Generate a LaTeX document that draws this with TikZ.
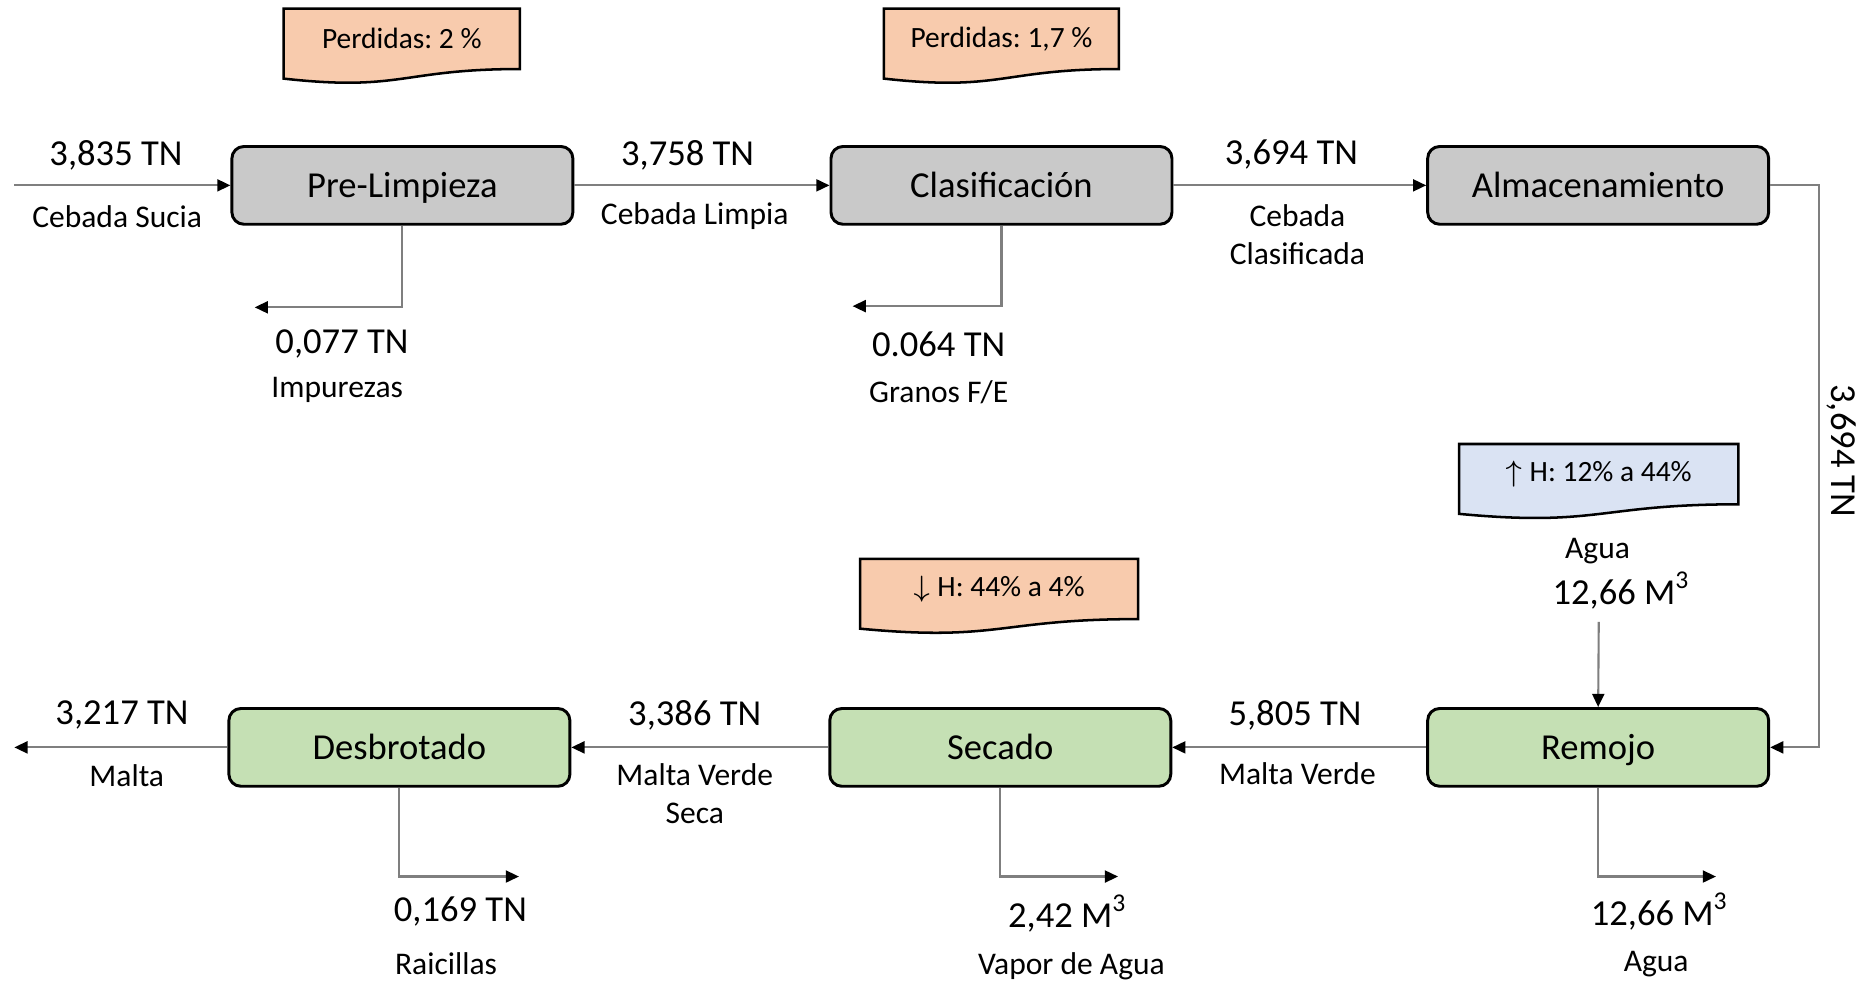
\documentclass[tikz,border=0pt]{standalone}
\usepackage{fontspec}
\setmainfont{Carlito}
\usetikzlibrary{arrows.meta,backgrounds,calc}

\definecolor{boxgris}{HTML}{C9C9C9}
\definecolor{boxverde}{HTML}{C5E0B4}
\definecolor{notanaranja}{HTML}{F8CBAD}
\definecolor{notaazul}{HTML}{DAE3F3}
\definecolor{lineagris}{HTML}{7F7F7F}

\newcommand{\grande}{\fontsize{8.7}{10}\selectfont}
\newcommand{\chico}{\fontsize{7.5}{9.1}\selectfont}
\newcommand{\notafont}{\fontsize{7}{8.5}\selectfont}

\tikzset{
  proceso/.style={draw, rounded corners=0.1cm, line width=0.7pt, minimum width=2.85cm,
    minimum height=0.65cm, inner sep=0pt, text height=1.5ex, text depth=0.3ex, font=\grande},
  flecha/.style={draw=lineagris, line width=0.5pt,
    -{Triangle[length=1.1mm,width=1mm,color=black]}},
  cantidad/.style={inner sep=0pt, font=\grande},
  etiqueta/.style={inner sep=0pt, font=\chico, align=center},
  notabox/.style={inner sep=0pt, minimum height=0.49cm, font=\notafont},
}

\begin{document}
\frenchspacing
\begin{tikzpicture}[x=0.01cm, y=-0.01cm]
      \useasboundingbox (0,0) rectangle (1568,823);
      \def \Procesos{
        prel/336.5/155/Pre-Limpieza/boxgris,
        clas/837.5/155/Clasificación/boxgris,
        alma/1336.5/155/Almacenamiento/boxgris,
        desb/334/625/Desbrotado/boxverde,
        seca/836.5/625/Secado/boxverde,
        remo/1336.5/625/Remojo/boxverde}
      \def \Cantidades{
        c1/97/130/{3,835 TN},
        c2/575/130/{3,758 TN},
        c3/1080/129/{3,694 TN},
        c4/286/288/{0,077 TN},
        c5/785/288/{0.064 TN},
        c6/102/598/{3,217 TN},
        c7/581/598/{3,386 TN},
        c8/1083/598/{5,805 TN},
        c9/385/762/{0,169 TN},
        c10/893/764/{2,42 M\textsuperscript{3}},
        c11/1388/762/{12,66 M\textsuperscript{3}},
        c12/1356/494/{12,66 M\textsuperscript{3}}}
      \def \Etiquetas{
        e1/98/181/{Cebada Sucia},
        e2/581/181/{Cebada Limpia},
        e3/1085/196/{Cebada\\Clasificada},
        e4/282/326/{Impurezas},
        e5/785/328/{Granos F/E},
        e6/106/649/{Malta},
        e7/581/664/{Malta Verde\\Seca},
        e8/1085/647/{Malta Verde},
        e9/373/806/{Raicillas},
        e10/896/808/{Vapor de Agua},
        e11/1385/806/{Agua},
        e12/1336/461/{Agua}}
      \def \Notas{
        perd1/336/32.5/1.96cm/notanaranja/{Perdidas: 2 \%},
        perd2/837.5/32.5/1.95cm/notanaranja/{Perdidas: 1,7 \%},
        hume1/1337/396.5/2.32cm/notaazul/{$\uparrow$ H: 12\% a 44\%},
        hume2/835.5/492.5/2.31cm/notanaranja/{$\downarrow$ H: 44\% a 4\%}}
      \foreach \id / \x / \y / \t / \c in \Procesos{
        \node[proceso, fill=\c] (\id) at (\x, \y) {\t};
      }
      \foreach \id / \x / \y / \t in \Cantidades{
        \node[cantidad] (\id) at (\x, \y) {\t};
      }
      \foreach \id / \x / \y / \t in \Etiquetas{
        \node[etiqueta] (\id) at (\x, \y) {\t};
      }
      \node[cantidad, rotate=-90] (c13) at (1540, 377) {3,694 TN};
      \foreach \id / \x / \y / \w / \c / \t in \Notas{
        \node[notabox, minimum width=\w] (\id) at (\x, \y) {\t};
        \begin{scope}[on background layer]
          \draw[fill=\c, line width=0.6pt] (\id.north west) -- (\id.north east) -- (\id.south east)
            .. controls (\id.south) and ($(\id.south)+(0,-0.19cm)$) .. ($(\id.south west)+(0,-0.08cm)$) -- cycle;
        \end{scope}
      }
      % extremos libres
      \coordinate (entrada) at (12, 155);
      \coordinate (salida) at (12, 625);
      \coordinate (impu) at (213, 257);
      \coordinate (gran) at (713, 256);
      \coordinate (raic) at (434, 733);
      \coordinate (vapo) at (935, 733);
      \coordinate (aguas) at (1435, 733);
      \coordinate (aguae) at (1337, 520);
      \path[flecha] (entrada) -- (prel.west);
      \path[flecha] (prel.east) -- (clas.west);
      \path[flecha] (clas.east) -- (alma.west);
      \path[flecha] (alma.east) -- ++(41, 0) |- (remo.east);
      \path[flecha] (remo.west) -- (seca.east);
      \path[flecha] (seca.west) -- (desb.east);
      \path[flecha] (desb.west) -- (salida);
      \path[flecha] (aguae) -- (remo.north);
      \path[flecha] (prel.south) |- (impu);
      \path[flecha] (clas.south) |- (gran);
      \path[flecha] (desb.south) |- (raic);
      \path[flecha] (seca.south) |- (vapo);
      \path[flecha] (remo.south) |- (aguas);
    \end{tikzpicture}
\end{document}
